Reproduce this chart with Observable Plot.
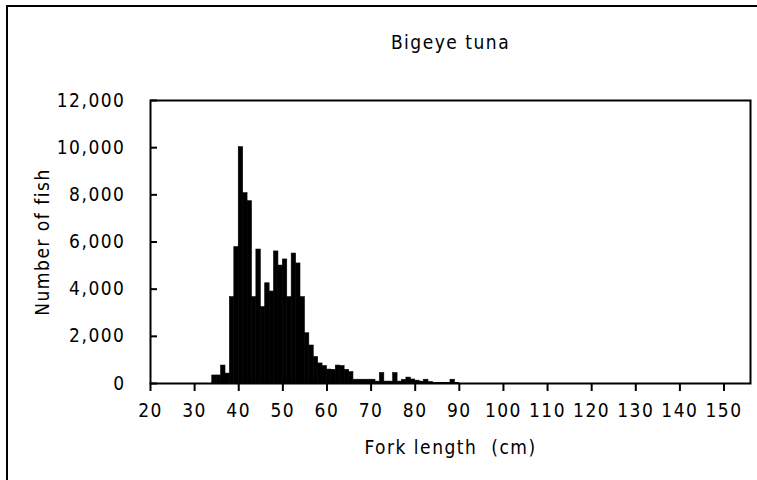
<!DOCTYPE html>
<html><head><meta charset="utf-8">
<script src="https://cdn.jsdelivr.net/npm/d3@7"></script>
<script src="https://cdn.jsdelivr.net/npm/@observablehq/plot@0.6"></script>
<style>
body{margin:0;overflow:hidden;background:#fff;}
#wrap{position:relative;width:757px;height:480px;overflow:hidden;}
#frame{position:absolute;left:6px;top:5px;width:800px;height:600px;border:2px solid #000;box-sizing:border-box;}
#chart{position:absolute;left:0;top:0;}
#chart svg text{letter-spacing:1.5px;font-stretch:condensed;}
</style></head><body>
<div id="wrap"><div id="frame"></div><div id="chart"></div></div>
<script>
const title = "Bigeye tuna";
const xLabel = "Fork length  (cm)";
const yLabel = "Number of fish";
const lengths = [34,35,36,37,38,39,40,41,42,43,44,45,46,47,48,49,50,51,52,53,54,55,56,57,58,59,60,61,62,63,64,65,66,67,68,69,70,71,72,73,74,75,76,77,78,79,80,81,82,83,84,85,86,87,88,89];
const counts = [340,340,760,420,3660,5780,10020,8070,7730,3660,5680,3240,4250,3900,5600,5000,5260,3660,5510,5090,3660,2130,1610,1120,850,740,590,580,760,740,580,480,160,160,160,160,160,80,440,80,80,440,80,150,250,170,120,80,160,60,20,20,20,20,160,20];
const xTicks = [20,30,40,50,60,70,80,90,100,110,120,130,140,150];
const yTicks = [0,2000,4000,6000,8000,10000,12000];
const data = lengths.map((len,i)=>({len, count: counts[i]}));
const font = "'DejaVu Sans', 'Liberation Sans Narrow', sans-serif";
const chart = Plot.plot({
  width:757, height:480, marginLeft:150, marginRight:7, marginTop:100, marginBottom:97,
  style:{fontFamily: font, fontSize:"19px", color:"#000", background:"transparent", overflow:"visible"},
  x:{domain:[20,156], label:null},
  y:{domain:[0,12000], label:null},
  marks:[
    Plot.rectY(data,{x1:"len", x2:d=>d.len+1, y:"count", fill:"#000", stroke:"#000", strokeWidth:0.6, inset:0}),
    Plot.frame({stroke:"#000", strokeWidth:2}),
    Plot.gridY(yTicks,{stroke:"#000", strokeOpacity:1, strokeWidth:2, insetRight:593}),
    Plot.axisY(yTicks,{tickSize:0, tickPadding:25, tickFormat:d3.format(","), fontSize:19, label:null}),
    Plot.axisX(xTicks,{tickSize:8, tickPadding:12, strokeWidth:2, fontSize:19, label:null}),
    Plot.text([title],{frameAnchor:"top", dy:-65, fontSize:19}),
    Plot.text([yLabel],{frameAnchor:"left", dx:-108, rotate:-90, textAnchor:"middle", lineAnchor:"middle", fontSize:19}),
    Plot.text([xLabel],{frameAnchor:"bottom", dy:70, fontSize:19})
  ]
});
document.getElementById("chart").appendChild(chart);
</script>
</body></html>
